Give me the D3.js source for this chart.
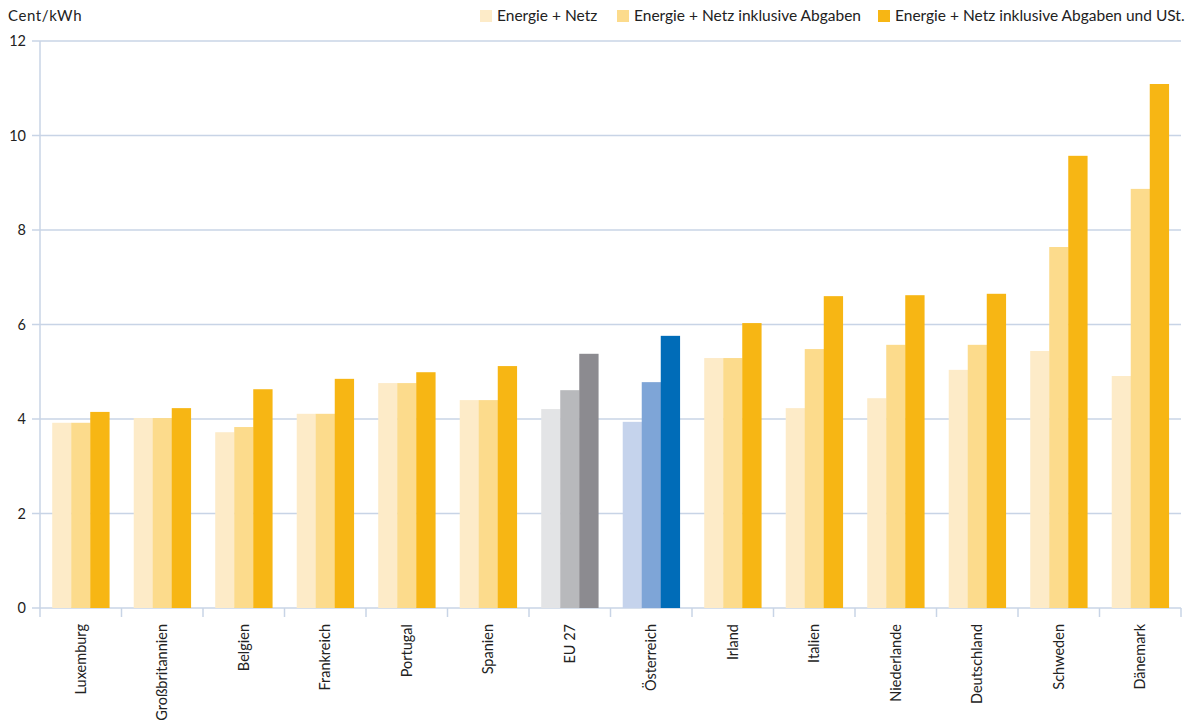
<!DOCTYPE html>
<html><head><meta charset="utf-8">
<script src="https://cdn.jsdelivr.net/npm/d3@7"></script>
<style>body{margin:0;background:#fff}svg{display:block}text{font-family:Lato,"Open Sans",sans-serif;fill:#222}</style>
</head><body><svg id="c" width="1190" height="725"></svg>
<script>
const categories = ["Luxemburg","Großbritannien","Belgien","Frankreich","Portugal","Spanien","EU 27","Österreich","Irland","Italien","Niederlande","Deutschland","Schweden","Dänemark"];
const seriesNames = ["Energie + Netz","Energie + Netz inklusive Abgaben","Energie + Netz inklusive Abgaben und USt."];
const energieNetz = [3.92,4.02,3.72,4.11,4.76,4.40,4.21,3.94,5.29,4.23,4.44,5.04,5.44,4.91];
const inklAbgaben = [3.92,4.02,3.83,4.11,4.76,4.40,4.61,4.78,5.29,5.48,5.57,5.57,7.64,8.87];
const inklUSt = [4.15,4.23,4.63,4.85,4.99,5.12,5.38,5.76,6.03,6.60,6.62,6.65,9.57,11.09];
const yTicks = [0,2,4,6,8,10,12];
const unitLabel = "Cent/kWh";

const colors = ["#fdebc8","#fcdb8c","#f7b614"];
const special = {"EU 27":["#e3e4e6","#b8b9bc","#8c8b90"],"Österreich":["#c5d3ec","#7ea5d7","#006cb8"]};
const series = [energieNetz,inklAbgaben,inklUSt];

const svg = d3.select("#c");
const pLeft=40,pRight=1181,pTop=41,pBottom=608;
const x = d3.scaleBand().domain(categories).range([pLeft,pRight]).paddingInner(0.3).paddingOuter(0.15);
const xb = d3.scaleBand().domain(categories).range([pLeft,pRight]);
const y = d3.scaleLinear().domain([0,12]).range([pBottom,pTop]);
const x1 = d3.scaleBand().domain([0,1,2]).range([0,x.bandwidth()]);
const grid="#c8d4e6";

svg.append("g").selectAll("line").data(yTicks).join("line")
 .attr("x1",32).attr("x2",pRight).attr("y1",d=>y(d)).attr("y2",d=>y(d))
 .attr("stroke",grid).attr("stroke-width",1.5);
svg.append("g").selectAll("text").data(yTicks).join("text")
 .attr("x",26).attr("y",d=>y(d)).attr("dy","0.35em").attr("text-anchor","end")
 .style("font-size","14.5px").text(d=>d);
svg.append("line").attr("x1",pLeft).attr("x2",pLeft).attr("y1",pTop).attr("y2",pBottom+9)
 .attr("stroke",grid).attr("stroke-width",1.5);
const bounds = categories.map(c=>xb(c)).concat([pRight]);
svg.append("g").selectAll("line").data(bounds.slice(1)).join("line")
 .attr("x1",d=>d).attr("x2",d=>d).attr("y1",pBottom).attr("y2",pBottom+9)
 .attr("stroke",grid).attr("stroke-width",1.5);

const g = svg.append("g");
categories.forEach((c,i)=>{
  const cols = special[c]||colors;
  series.forEach((s,j)=>{
    g.append("rect").attr("x",x(c)+x1(j)).attr("width",x1.bandwidth()+0.3)
     .attr("y",y(s[i])).attr("height",y(0)-y(s[i])).attr("fill",cols[j]);
  });
});

svg.append("g").selectAll("text").data(categories).join("text")
 .attr("transform",d=>`translate(${xb(d)+xb.bandwidth()/2},624) rotate(-90)`)
 .attr("dy","0.35em").attr("text-anchor","end").style("font-size","14.5px").text(d=>d);

svg.append("text").attr("x",8).attr("y",21).style("font-size","15px").style("letter-spacing","0.6px").text(unitLabel);

const legX=[480,617,878];
const lg = svg.append("g");
seriesNames.forEach((n,i)=>{
  lg.append("rect").attr("x",legX[i]).attr("y",10).attr("width",12).attr("height",12).attr("fill",colors[i]);
  lg.append("text").attr("x",legX[i]+17).attr("y",21).style("font-size","15.5px").text(n);
});
</script></body></html>
